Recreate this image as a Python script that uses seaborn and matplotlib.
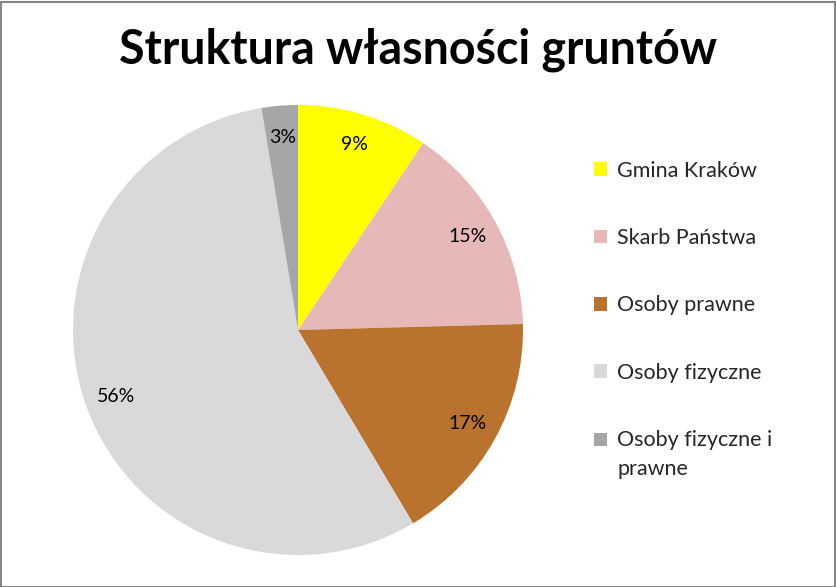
import matplotlib
matplotlib.use("Agg")
import matplotlib.pyplot as plt
import seaborn as sns
from matplotlib.patches import Rectangle
from matplotlib.legend_handler import HandlerPatch

sns.set_theme(style="white")
plt.rcParams['font.family'] = ['Lato', 'DejaVu Sans']

categories = ["Gmina Kraków", "Skarb Państwa", "Osoby prawne", "Osoby fizyczne", "Osoby fizyczne i\nprawne"]
values = [9.4, 15.2, 16.9, 56.0, 2.6]
colors = ["#FFFF00", "#E6B9B8", "#B9732F", "#D9D9D9", "#A6A6A6"]
title = "Struktura własności gruntów"

W, H = 836, 587
fig = plt.figure(figsize=(W / 100, H / 100), dpi=100)
fig.patch.set_facecolor("white")
fig.add_artist(Rectangle((0.5 / W, 0.5 / H), 1 - 2 / W, 1 - 2 / H, transform=fig.transFigure,
                         fill=False, edgecolor="#868686", linewidth=1.5))

cx, cy, r = 298, 330, 225
ax = fig.add_axes([(cx - r) / W, (H - cy - r) / H, 2 * r / W, 2 * r / H])
wedges, texts, autotexts = ax.pie(values, colors=colors, startangle=90, counterclock=False,
                                  autopct=lambda p: f"{p:.0f}%", pctdistance=0.86,
                                  wedgeprops=dict(linewidth=0), textprops=dict(fontsize=14, color="black"))
ax.set_xlim(-1, 1)
ax.set_ylim(-1, 1)
ax.set_aspect("equal")
ax.axis("off")

fig.text(418 / W, 1 - 50 / H, title, ha="center", va="center", fontsize=33.5,
         fontweight="bold", color="black")

leg_fs = 15.5


def square(offset):
    def f(legend, orig_handle, xdescent, ydescent, width, height, fontsize):
        return Rectangle((-xdescent, -ydescent + offset), width, height)
    return f


hmap = {wedges[-1]: HandlerPatch(patch_func=square(leg_fs * 0.72))}
leg = fig.legend(wedges, categories, loc="upper left", bbox_to_anchor=(585 / W, 1 - 152 / H),
                 frameon=False, fontsize=leg_fs, handlelength=0.6, handleheight=0.6, handletextpad=0.5,
                 labelspacing=2.2, borderaxespad=0, handler_map=hmap)
for t in leg.get_texts():
    t.set_linespacing(1.55)

fig.savefig("out.png", dpi=100)
